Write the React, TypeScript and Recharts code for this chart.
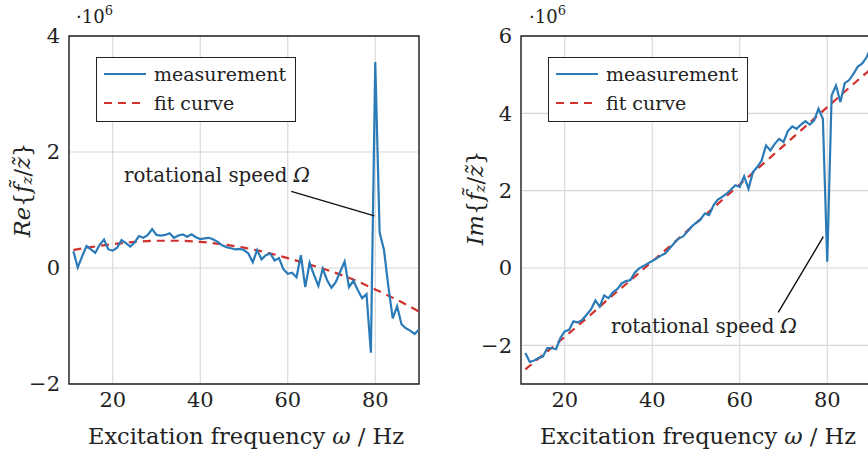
import {
  CartesianGrid,
  Legend,
  Line,
  LineChart,
  ReferenceArea,
  ReferenceLine,
  XAxis,
  YAxis,
} from "recharts";

// excitation frequencies of the measurement, Hz
const FREQ = [
  11, 12, 13, 14, 15, 16, 17, 18, 19, 20, 21, 22, 23, 24, 25, 26, 27, 28, 29, 30,
  31, 32, 33, 34, 35, 36, 37, 38, 39, 40, 41, 42, 43, 44, 45, 46, 47, 48, 49, 50,
  51, 52, 53, 54, 55, 56, 57, 58, 59, 60, 61, 62, 63, 64, 65, 66, 67, 68, 69, 70,
  71, 72, 73, 74, 75, 76, 77, 78, 79, 80, 81, 82, 83, 84, 85, 86, 87, 88, 89, 90,
];

// Re{f_z/z} measurement, x 1e6
const RE_MEAS = [
  0.29, 0.01, 0.2, 0.38, 0.32, 0.26, 0.4, 0.49, 0.32, 0.3,
  0.35, 0.48, 0.43, 0.37, 0.44, 0.55, 0.52, 0.57, 0.67, 0.57,
  0.56, 0.57, 0.6, 0.52, 0.56, 0.58, 0.54, 0.58, 0.53, 0.5,
  0.51, 0.52, 0.49, 0.45, 0.39, 0.36, 0.34, 0.32, 0.33, 0.31,
  0.25, 0.1, 0.31, 0.15, 0.22, 0.25, 0.13, 0.17, -0.02, -0.1,
  -0.08, -0.16, 0.22, -0.33, 0.09, -0.12, -0.31, -0.01, -0.21, -0.34,
  -0.24, -0.06, 0.11, -0.33, -0.22, -0.38, -0.52, -0.45, -1.46, 3.55,
  0.61, 0.31, -0.32, -0.87, -0.66, -0.97, -1.04, -1.08, -1.14, -1.06,
];

// Im{f_z/z} measurement, x 1e6
const IM_MEAS = [
  -2.2, -2.43, -2.39, -2.33, -2.29, -2.07, -2.07, -2.1, -1.81, -1.64,
  -1.6, -1.38, -1.41, -1.34, -1.21, -1.07, -0.84, -1.0, -0.71, -0.78,
  -0.63, -0.55, -0.4, -0.34, -0.31, -0.12, -0.01, 0.05, 0.12, 0.18,
  0.25, 0.32, 0.38, 0.51, 0.64, 0.76, 0.81, 0.94, 1.07, 1.17,
  1.25, 1.41, 1.37, 1.62, 1.77, 1.84, 1.92, 2.03, 2.14, 2.1,
  2.37, 2.05, 2.48, 2.61, 2.78, 3.17, 3.04, 3.21, 3.34, 3.26,
  3.54, 3.66, 3.6, 3.71, 3.8, 3.71, 3.81, 4.12, 3.86, 0.16,
  4.46, 4.72, 4.29, 4.78, 4.86, 5.02, 5.21, 5.29, 5.45, 5.72,
];

// fit curves, sampled every 5 Hz
const FIT_FREQ = [11, 15, 20, 25, 30, 35, 40, 45, 50, 55, 60, 65, 70, 75, 80, 85, 90];
const RE_FIT = [
  0.31, 0.36, 0.41, 0.45, 0.47, 0.47, 0.45, 0.41, 0.35, 0.27, 0.17, 0.06, -0.06,
  -0.2, -0.37, -0.55, -0.75,
];
const IM_FIT = [
  -2.62, -2.25, -1.78, -1.3, -0.8, -0.32, 0.17, 0.66, 1.16, 1.66, 2.16, 2.66, 3.16,
  3.66, 4.16, 4.66, 5.15,
];

const X_TICKS = [20, 40, 60, 80];
const RE_TICKS = [-2, 0, 2, 4];
const IM_TICKS = [-2, 0, 2, 4, 6];

const BLUE = "#2a7bb8";
const RED = "#d0312d";
const INK = "#222";
const FONT = "'DejaVu Serif', serif";
const FS = 19;

const reMeas = FREQ.map((f, i) => ({ f, v: RE_MEAS[i] }));
const reFit = FIT_FREQ.map((f, i) => ({ f, v: RE_FIT[i] }));
const imMeas = FREQ.map((f, i) => ({ f, v: IM_MEAS[i] }));
const imFit = FIT_FREQ.map((f, i) => ({ f, v: IM_FIT[i] }));

const tickStyle = { fill: INK, fontSize: 21, fontFamily: FONT };
const minus = (v: number) => String(v).replace("-", "\u2212");

function LegendBox() {
  const row = { display: "flex", alignItems: "center", height: 29 } as const;
  return (
    <div
      style={{
        width: 200,
        height: 65,
        boxSizing: "border-box",
        border: `1.4px solid ${INK}`,
        background: "#fff",
        padding: "1px 0 0 7px",
        fontFamily: FONT,
        fontSize: FS,
        color: INK,
      }}
    >
      <div style={row}>
        <svg width={43} height={10} style={{ marginRight: 7 }}>
          <line x1={0} y1={5} x2={42} y2={5} stroke={BLUE} strokeWidth={2} />
        </svg>
        measurement
      </div>
      <div style={row}>
        <svg width={43} height={10} style={{ marginRight: 7 }}>
          <line x1={0} y1={5} x2={42} y2={5} stroke={RED} strokeWidth={2} strokeDasharray="8 6" />
        </svg>
        fit curve
      </div>
    </div>
  );
}

type PanelProps = {
  meas: { f: number; v: number }[];
  fit: { f: number; v: number }[];
  domain: [number, number];
  ticks: number[];
  marginLeft: number;
  marginRight: number;
  legendLeft: number;
  pointer: [{ x: number; y: number }, { x: number; y: number }];
};

function Panel({ meas, fit, domain, ticks, marginLeft, marginRight, legendLeft, pointer }: PanelProps) {
  return (
    <LineChart
      width={440}
      height={452}
      margin={{ top: 36, right: marginRight, bottom: 38, left: marginLeft }}
    >
      <CartesianGrid stroke="#d6d6d6" strokeWidth={1.1} />
      <XAxis
        type="number"
        dataKey="f"
        domain={[10, 90]}
        ticks={X_TICKS}
        allowDataOverflow
        height={30}
        axisLine={false}
        tickLine={false}
        tick={tickStyle}
      />
      <YAxis
        type="number"
        dataKey="v"
        domain={domain}
        ticks={ticks}
        allowDataOverflow
        width={40}
        axisLine={false}
        tickLine={false}
        tickMargin={3}
        tick={tickStyle}
        tickFormatter={minus}
      />
      <Line
        data={fit}
        dataKey="v"
        type="monotone"
        stroke={RED}
        strokeWidth={2.2}
        strokeDasharray="8 6"
        dot={false}
        isAnimationActive={false}
      />
      <Line
        data={meas}
        dataKey="v"
        type="linear"
        stroke={BLUE}
        strokeWidth={2.2}
        dot={false}
        isAnimationActive={false}
      />
      <ReferenceLine segment={pointer} stroke="#111" strokeWidth={1.4} />
      <ReferenceArea
        x1={10}
        x2={90}
        y1={domain[0]}
        y2={domain[1]}
        fill="none"
        stroke={INK}
        strokeWidth={1.4}
        ifOverflow="visible"
      />
      <Legend
        layout="horizontal"
        verticalAlign="middle"
        align="center"
        wrapperStyle={{ left: legendLeft, top: 57, width: 200 }}
        content={() => <LegendBox />}
      />
    </LineChart>
  );
}

function YTitle({ x, y, head }: { x: number; y: number; head: string }) {
  return (
    <text
      x={x}
      y={y}
      transform={`rotate(-90 ${x} ${y})`}
      textAnchor="middle"
      dominantBaseline="central"
      fontSize={22.5}
    >
      <tspan fontStyle="italic">{head}</tspan>
      <tspan>{"{"}</tspan>
      <tspan fontStyle="italic">{"f\u0303"}</tspan>
      <tspan fontStyle="italic" fontSize={15} dy={5}>z</tspan>
      <tspan dy={-5}>/</tspan>
      <tspan fontStyle="italic">{"z\u0303"}</tspan>
      <tspan>{"}"}</tspan>
    </text>
  );
}

function Exponent({ x }: { x: number }) {
  return (
    <text x={x} y={23} fontSize={18}>
      ·10
      <tspan fontSize={13} dy={-8}>6</tspan>
    </text>
  );
}

export default function App() {
  return (
    <div
      style={{
        position: "fixed",
        left: 0,
        top: 0,
        width: 868,
        height: 452,
        overflow: "hidden",
        background: "#fff",
      }}
    >
      <div style={{ position: "absolute", left: 0, top: 0 }}>
        <Panel
          meas={reMeas}
          fit={reFit}
          domain={[-2, 4]}
          ticks={RE_TICKS}
          marginLeft={29}
          marginRight={21}
          legendLeft={96}
          pointer={[{ x: 60.8, y: 1.32 }, { x: 79.8, y: 0.9 }]}
        />
      </div>
      <div style={{ position: "absolute", left: 440, top: 0 }}>
        <Panel
          meas={imMeas}
          fit={imFit}
          domain={[-3, 6]}
          ticks={IM_TICKS}
          marginLeft={41}
          marginRight={9}
          legendLeft={108}
          pointer={[{ x: 68.8, y: -1.15 }, { x: 79.1, y: 0.81 }]}
        />
      </div>
      <svg
        width={868}
        height={452}
        style={{ position: "absolute", left: 0, top: 0, pointerEvents: "none" }}
        fontFamily={FONT}
        fontSize={FS}
        fill={INK}
      >
        <Exponent x={76} />
        <Exponent x={529} />
        <YTitle x={22} y={190} head="Re" />
        <YTitle x={475} y={198} head="Im" />
        <text x={246} y={444} textAnchor="middle" fontSize={22.5}>
          Excitation frequency <tspan fontStyle="italic">ω</tspan> / Hz
        </text>
        <text x={698} y={444} textAnchor="middle" fontSize={22.5}>
          Excitation frequency <tspan fontStyle="italic">ω</tspan> / Hz
        </text>
        <text x={217} y={182} textAnchor="middle" fontSize={19.8}>
          rotational speed <tspan fontStyle="italic">Ω</tspan>
        </text>
        <text x={704} y={333} textAnchor="middle" fontSize={19.8}>
          rotational speed <tspan fontStyle="italic">Ω</tspan>
        </text>
      </svg>
    </div>
  );
}
